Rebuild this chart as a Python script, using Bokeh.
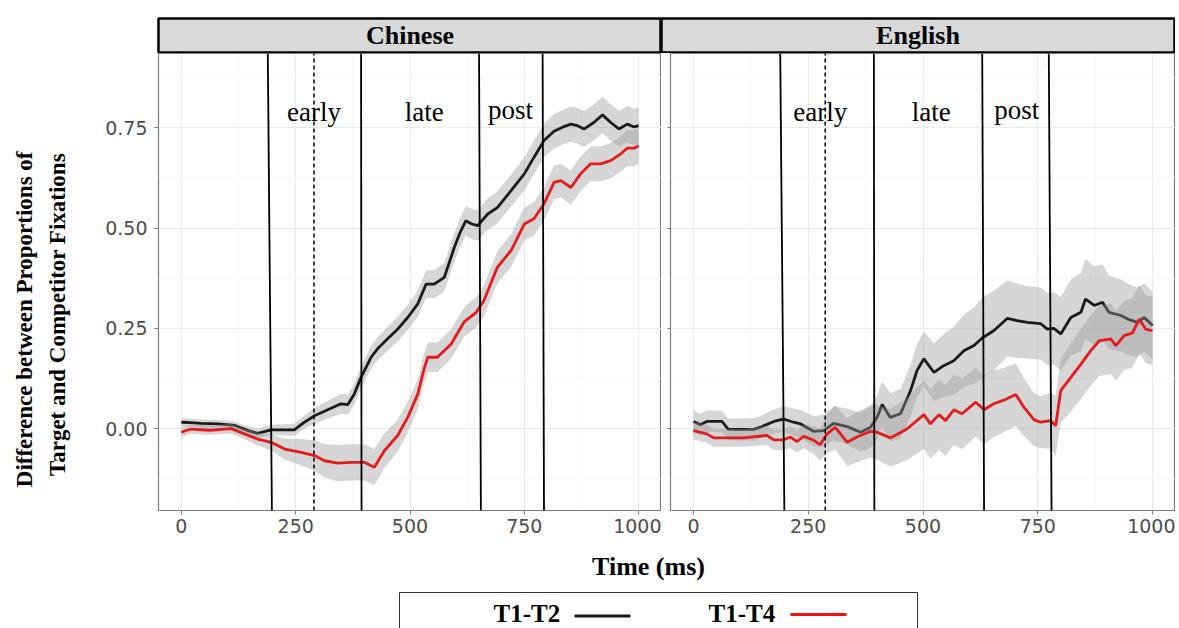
import numpy as np
from bokeh.plotting import figure
from bokeh.models import Range1d, FixedTicker, CustomJSTickFormatter
from bokeh.layouts import row, column
from bokeh.core.properties import value
from bokeh.embed import file_html
from bokeh.resources import INLINE

# ---------------- data ----------------
PANELS = ["Chinese", "English"]
PHASES = ["early", "late", "post"]
SERIES_NAMES = ["T1-T2", "T1-T4"]

# Chinese, T1-T2
cn_t2_t = [0, 20, 43, 80, 117, 146, 167, 196, 247, 269, 291, 320, 349, 364, 378, 393, 415, 429, 451, 473,
           495, 517, 535, 553, 575, 597, 610, 622, 635, 648, 670, 691, 721, 750, 771, 793, 815, 835, 852, 866,
           881, 902, 921, 939, 957, 975, 990, 1000]
cn_t2_v = [0.016, 0.015, 0.013, 0.012, 0.008, -0.005, -0.012, -0.003, -0.003, 0.016, 0.032, 0.047, 0.062, 0.060,
           0.086, 0.128, 0.178, 0.199, 0.224, 0.248, 0.277, 0.311, 0.360, 0.360, 0.377, 0.452, 0.490, 0.518,
           0.510, 0.506, 0.535, 0.551, 0.593, 0.635, 0.676, 0.718, 0.741, 0.752, 0.759, 0.755, 0.747, 0.763,
           0.782, 0.763, 0.747, 0.759, 0.752, 0.755]
cn_t2_se = [0.010, 0.010, 0.010, 0.010, 0.010, 0.011, 0.012, 0.013, 0.015, 0.017, 0.020, 0.022, 0.025, 0.025,
            0.026, 0.027, 0.028, 0.029, 0.030, 0.031, 0.032, 0.033, 0.034, 0.035, 0.035, 0.036, 0.037, 0.037,
            0.038, 0.038, 0.039, 0.040, 0.040, 0.041, 0.042, 0.042, 0.043, 0.043, 0.044, 0.044, 0.045, 0.045,
            0.045, 0.045, 0.045, 0.045, 0.045, 0.045]

# Chinese, T1-T4
cn_t4_t = [0, 20, 62, 109, 138, 167, 196, 226, 262, 291, 313, 342, 371, 400, 422, 444, 473, 495, 517, 531,
           539, 560, 590, 619, 645, 662, 676, 691, 721, 750, 771, 793, 815, 830, 852, 873, 895, 917, 939, 961,
           975, 990, 1000]
cn_t4_v = [-0.009, -0.001, -0.004, 0.000, -0.013, -0.026, -0.034, -0.051, -0.059, -0.067, -0.080, -0.086, -0.084,
           -0.084, -0.096, -0.055, -0.017, 0.028, 0.086, 0.150, 0.178, 0.178, 0.211, 0.267, 0.290, 0.320, 0.360,
           0.402, 0.444, 0.510, 0.523, 0.560, 0.614, 0.618, 0.601, 0.635, 0.660, 0.660, 0.668, 0.685, 0.699,
           0.699, 0.705]
cn_t4_se = [0.012, 0.012, 0.012, 0.012, 0.013, 0.016, 0.020, 0.026, 0.033, 0.038, 0.042, 0.045, 0.045, 0.045,
            0.045, 0.043, 0.040, 0.038, 0.037, 0.037, 0.037, 0.037, 0.037, 0.037, 0.038, 0.039, 0.040, 0.040,
            0.041, 0.041, 0.042, 0.042, 0.042, 0.042, 0.043, 0.043, 0.043, 0.044, 0.044, 0.044, 0.045, 0.045,
            0.045]

# English, T1-T2
en_t2_t = [0, 15, 29, 62, 76, 131, 145, 175, 196, 218, 233, 262, 284, 305, 335, 364, 385, 400, 411, 429,
           451, 473, 487, 502, 524, 545, 567, 589, 611, 629, 654, 684, 705, 727, 756, 771, 785, 800, 822, 844,
           854, 873, 891, 905, 931, 946, 967, 982, 1000]
en_t2_v = [0.018, 0.010, 0.018, 0.018, -0.002, -0.002, 0.003, 0.018, 0.024, 0.016, 0.012, -0.007, -0.005, 0.013,
           0.005, -0.009, 0.003, 0.028, 0.060, 0.028, 0.037, 0.095, 0.145, 0.174, 0.140, 0.157, 0.169, 0.194,
           0.207, 0.226, 0.244, 0.275, 0.269, 0.265, 0.262, 0.248, 0.250, 0.236, 0.277, 0.290, 0.323, 0.307,
           0.315, 0.290, 0.282, 0.273, 0.265, 0.277, 0.257]
en_t2_se = [0.027, 0.027, 0.027, 0.027, 0.027, 0.028, 0.028, 0.030, 0.032, 0.034, 0.035, 0.038, 0.040, 0.042,
            0.045, 0.048, 0.052, 0.055, 0.058, 0.060, 0.062, 0.064, 0.066, 0.068, 0.072, 0.078, 0.085, 0.090,
            0.095, 0.100, 0.100, 0.095, 0.092, 0.090, 0.090, 0.090, 0.090, 0.092, 0.095, 0.098, 0.100, 0.098,
            0.095, 0.092, 0.090, 0.088, 0.087, 0.085, 0.085]

# English, T1-T4
en_t4_t = [0, 29, 44, 109, 160, 175, 196, 211, 226, 240, 262, 276, 291, 309, 335, 356, 385, 400, 429, 465,
           502, 516, 535, 549, 567, 585, 615, 633, 654, 676, 702, 720, 742, 756, 778, 789, 800, 822, 844, 865,
           884, 909, 920, 938, 956, 971, 985, 1000]
en_t4_v = [-0.005, -0.013, -0.023, -0.023, -0.017, -0.028, -0.028, -0.021, -0.032, -0.019, -0.029, -0.040, -0.013,
           0.003, -0.034, -0.021, -0.007, -0.009, -0.023, -0.001, 0.035, 0.012, 0.035, 0.020, 0.047, 0.037,
           0.066, 0.047, 0.062, 0.071, 0.085, 0.053, 0.022, 0.016, 0.020, 0.007, 0.095, 0.128, 0.161, 0.194,
           0.219, 0.224, 0.207, 0.232, 0.238, 0.273, 0.248, 0.244]
en_t4_se = [0.022, 0.022, 0.022, 0.022, 0.024, 0.025, 0.026, 0.027, 0.028, 0.030, 0.035, 0.040, 0.048, 0.055,
            0.060, 0.063, 0.065, 0.068, 0.072, 0.078, 0.085, 0.087, 0.088, 0.088, 0.088, 0.088, 0.086, 0.085,
            0.083, 0.080, 0.078, 0.072, 0.066, 0.064, 0.070, 0.075, 0.080, 0.085, 0.087, 0.088, 0.088, 0.088,
            0.087, 0.086, 0.086, 0.085, 0.085, 0.085]

# analysis-window boundaries (ms): lines are slightly slanted (top / bottom)
cn_win_top = [189, 393, 651, 790]
cn_win_bot = [198, 394, 655, 793]
cn_dash = [290]
en_win_top = [189, 393, 629, 774]
en_win_bot = [198, 394, 633, 780]
en_dash = [287]

# phase label positions (ms, proportion at the label's middle)
cn_lab_t = [290, 531, 720]
cn_lab_y = [0.789, 0.789, 0.795]
en_lab_t = [276, 518, 704]
en_lab_y = [0.789, 0.789, 0.795]

X_TICKS = [0, 250, 500, 750, 1000]
X_MINOR = [125, 375, 625, 875]
Y_TICKS = [0.0, 0.25, 0.5, 0.75]
Y_MINOR = [-0.125, 0.125, 0.375, 0.625, 0.875]

# ---------------- styling ----------------
SERIF = value("Liberation Serif")
X_LO, X_HI = -50, 1050
Y_LO, Y_HI = -0.204, 0.935
COL_T2 = "#1a1a1a"
COL_T4 = "#e41a1c"
RIBBON = "#999999"


def make_panel(min_left, fwidth, series, win_top, win_bot, dash_t, lab_t, lab_y, with_labels):
    p = figure(frame_width=fwidth, frame_height=457,
               x_range=Range1d(X_LO, X_HI), y_range=Range1d(Y_LO, Y_HI),
               output_backend="svg", toolbar_location=None,
               min_border_left=min_left, min_border_right=0,
               min_border_top=0, min_border_bottom=34,
               background_fill_color="white", border_fill_color="white",
               outline_line_color="#7a7a7a", outline_line_width=1.2)
    p.xaxis.ticker = FixedTicker(ticks=X_TICKS, minor_ticks=X_MINOR)
    p.yaxis.ticker = FixedTicker(ticks=Y_TICKS, minor_ticks=Y_MINOR)
    for ax in (p.xaxis, p.yaxis):
        ax.axis_line_color = None
        ax.major_tick_line_color = "#7a7a7a"
        ax.major_tick_in = 0
        ax.minor_tick_line_color = None
        ax.major_label_text_font = "DejaVu Sans"
        ax.major_label_text_font_size = "19px"
        ax.major_label_text_color = "#4d4d4d"
    p.xaxis.major_tick_out = 4
    p.xaxis.major_label_standoff = 4
    if with_labels:
        p.yaxis.formatter = CustomJSTickFormatter(code="return tick.toFixed(2);")
        p.yaxis.major_tick_out = 4
        p.yaxis.major_label_standoff = 7
    else:
        p.yaxis.formatter = CustomJSTickFormatter(code="return '';")
        p.yaxis.major_tick_out = 3
        p.yaxis.major_label_standoff = 0
    p.xgrid.grid_line_color = "#ebebeb"
    p.ygrid.grid_line_color = "#ebebeb"
    p.xgrid.grid_line_width = 1.1
    p.ygrid.grid_line_width = 1.1
    p.xgrid.minor_grid_line_color = "#f3f3f3"
    p.ygrid.minor_grid_line_color = "#f3f3f3"
    p.xgrid.minor_grid_line_width = 0.7
    p.ygrid.minor_grid_line_width = 0.7

    for (t, v, se, col) in series:
        t = np.asarray(t, float)
        v = np.asarray(v, float)
        se = np.asarray(se, float)
        p.varea(x=t, y1=v - se, y2=v + se, fill_color=RIBBON, fill_alpha=0.4)
        p.line(x=t, y=v, line_color=col, line_width=2.8)

    n = len(win_top)
    p.segment(x0=win_bot, y0=[Y_LO] * n, x1=win_top, y1=[Y_HI] * n,
              line_color="black", line_width=1.8)
    p.segment(x0=dash_t, y0=[Y_LO] * len(dash_t), x1=dash_t, y1=[Y_HI] * len(dash_t),
              line_color="black", line_width=1.5, line_dash="4 3")
    p.text(x=lab_t, y=lab_y, text=PHASES, text_font=SERIF, text_font_size="27px",
           text_align="center", text_baseline="middle", text_color="black")
    return p


def make_strip(label, min_left, fwidth, min_right):
    s = figure(frame_width=fwidth, frame_height=34,
               x_range=Range1d(0, 1), y_range=Range1d(0, 1),
               x_axis_type=None, y_axis_type=None,
               min_border_left=min_left, min_border_right=min_right,
               min_border_top=18, min_border_bottom=1,
               background_fill_color="#d9d9d9", border_fill_color="white",
               outline_line_color="black", outline_line_width=2.5,
               toolbar_location=None, output_backend="svg")
    s.text(x=[0.5], y=[0.5], text=[label], text_font=SERIF, text_font_style="bold",
           text_font_size="26px", text_align="center", text_baseline="middle", text_color="black")
    return s


strip_cn = make_strip(PANELS[0], 158, 503, 0)
strip_en = make_strip(PANELS[1], 0, 513, 1)

p_cn = make_panel(60, 503,
                  [(cn_t2_t, cn_t2_v, cn_t2_se, COL_T2), (cn_t4_t, cn_t4_v, cn_t4_se, COL_T4)],
                  cn_win_top, cn_win_bot, cn_dash, cn_lab_t, cn_lab_y, True)
p_en = make_panel(9, 505,
                  [(en_t2_t, en_t2_v, en_t2_se, COL_T2), (en_t4_t, en_t4_v, en_t4_se, COL_T4)],
                  en_win_top, en_win_bot, en_dash, en_lab_t, en_lab_y, False)

# y-axis title (two lines), in a narrow figure left of the Chinese panel
ytitle = figure(width=98, height=491, x_range=Range1d(0, 98), y_range=Range1d(0, 491),
                x_axis_type=None, y_axis_type=None, min_border=0,
                outline_line_color=None, toolbar_location=None, output_backend="svg")
ytitle.text(x=[23.5, 56.5], y=[25, 37],
            text=["Difference between  Proportions of", "Target and Competitor Fixations"],
            angle=np.pi / 2, text_font=SERIF, text_font_style="bold", text_font_size="23px",
            text_align="left", text_baseline="middle", text_color="black")

# x-axis title and legend
bottom = figure(width=1175, height=84, x_range=Range1d(0, 1175), y_range=Range1d(0, 84),
                x_axis_type=None, y_axis_type=None, min_border=0,
                outline_line_color=None, toolbar_location=None, output_backend="svg")
bottom.text(x=[648], y=[62], text=["Time (ms)"], text_font=SERIF, text_font_style="bold",
            text_font_size="26px", text_align="center", text_baseline="middle", text_color="black")
bottom.line(x=[399, 399, 917, 917], y=[-12, 36, 36, -12], line_color="#333333", line_width=1)
bottom.text(x=[493, 708], y=[15, 15], text=SERIES_NAMES, text_font=SERIF, text_font_style="bold",
            text_font_size="25px", text_align="left", text_baseline="middle", text_color="black")
bottom.segment(x0=[574, 790], y0=[12.5, 14], x1=[630, 846], y1=[12.5, 14],
               line_color=[COL_T2, "#ee1111"], line_width=3)

layout = column(row(strip_cn, strip_en), row(ytitle, p_cn, p_en), bottom)

with open("out.html", "w") as f:
    f.write(file_html(layout, INLINE, title="Fixation differences"))
